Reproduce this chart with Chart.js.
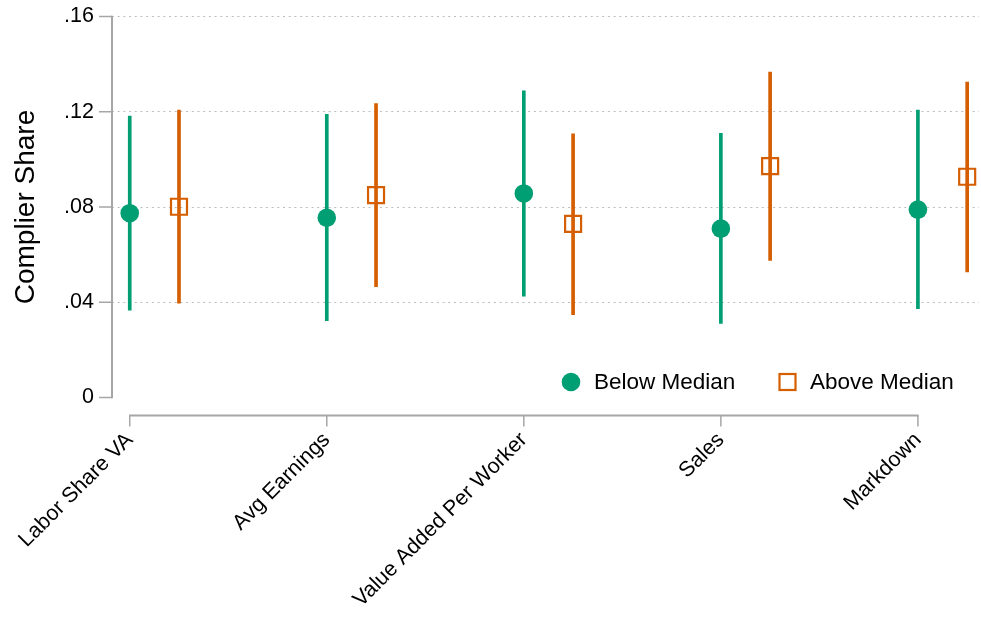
<!DOCTYPE html>
<html><head><meta charset="utf-8">
<script src="https://cdn.jsdelivr.net/npm/chart.js@4/dist/chart.umd.min.js"></script>
<style>html,body{margin:0;padding:0;background:#fff;overflow:hidden}#wrap{width:981px;height:618px;position:relative}</style>
</head><body><div id="wrap"><canvas id="c" width="981" height="618"></canvas></div>
<script>
// ---- data ----
const categories = ['Labor Share VA', 'Avg Earnings', 'Value Added Per Worker', 'Sales', 'Markdown'];
const seriesNames = ['Below Median', 'Above Median'];
const belowEst = [0.0774, 0.0755, 0.0857, 0.0709, 0.0789];
const belowLo  = [0.0367, 0.0323, 0.0426, 0.0311, 0.0373];
const belowHi  = [0.1182, 0.1189, 0.1288, 0.1109, 0.1207];
const aboveEst = [0.0801, 0.0850, 0.0729, 0.0972, 0.0927];
const aboveLo  = [0.0396, 0.0465, 0.0348, 0.0576, 0.0527];
const aboveHi  = [0.1207, 0.1234, 0.1107, 0.1367, 0.1325];
const yTicks = [0, 0.04, 0.08, 0.12, 0.16];
const yTickLabels = ['0', '.04', '.08', '.12', '.16'];
const catPos = [1, 2, 3, 4, 5];
const aboveOffset = 0.25;
const yTitle = 'Complier Share';

// ---- styles ----
const GREEN = '#009E73', ORANGE = '#D55E00', AXIS = '#a6a6a6';
const FONT = "'Liberation Sans', Arial, Helvetica, sans-serif";
Chart.defaults.font.family = FONT;
Chart.defaults.color = '#000';

const zeroPad = s => { s.paddingLeft = 0; s.paddingRight = 0; s.paddingTop = 0; s.paddingBottom = 0; };

const axesPlugin = {
  id: 'stataAxes',
  afterDraw(chart) {
    const {ctx, chartArea: a, scales: {x, y}} = chart;
    ctx.save();
    ctx.strokeStyle = AXIS;
    const yb = y.getPixelForValue(yTicks[0]), yt = y.getPixelForValue(yTicks[yTicks.length - 1]);
    ctx.lineWidth = 2;
    ctx.beginPath(); ctx.moveTo(a.left, yb + 0.75); ctx.lineTo(a.left, yt - 0.75); ctx.stroke();
    ctx.lineWidth = 1.5;
    yTicks.forEach(v => {
      const py = y.getPixelForValue(v);
      ctx.beginPath(); ctx.moveTo(a.left - 13, py); ctx.lineTo(a.left, py); ctx.stroke();
    });
    const ay = a.bottom + 18;
    const xl = x.getPixelForValue(catPos[0]), xr = x.getPixelForValue(catPos[catPos.length - 1]);
    ctx.lineWidth = 2;
    ctx.beginPath(); ctx.moveTo(xl - 0.75, ay); ctx.lineTo(xr + 0.75, ay); ctx.stroke();
    ctx.lineWidth = 1.5;
    catPos.forEach(v => {
      const px = x.getPixelForValue(v);
      ctx.beginPath(); ctx.moveTo(px, ay); ctx.lineTo(px, ay + 11); ctx.stroke();
    });
    ctx.restore();
  }
};

const legendPlugin = {
  id: 'insideLegend',
  afterDraw(chart) {
    const {ctx, chartArea: a} = chart;
    ctx.save();
    ctx.font = '22.5px ' + FONT;
    ctx.textBaseline = 'middle';
    const cy = a.bottom - 15.5;
    const cx = a.right - 408, t1 = a.right - 385;
    const sq = a.right - 191.5, t2 = a.right - 169;
    ctx.fillStyle = GREEN;
    ctx.beginPath(); ctx.arc(cx, cy, 9.3, 0, Math.PI * 2); ctx.fill();
    ctx.strokeStyle = ORANGE; ctx.lineWidth = 2.2;
    ctx.strokeRect(sq - 8, cy - 8, 16, 16);
    ctx.fillStyle = '#000';
    ctx.fillText(seriesNames[0], t1, cy + 1);
    ctx.fillText(seriesNames[1], t2, cy + 1);
    ctx.restore();
  }
};

const barDs = (lo, hi, off, color, label) => ({
  type: 'bar', label,
  data: catPos.map((p, i) => ({x: p + off, y: [lo[i], hi[i]]})),
  backgroundColor: color, borderWidth: 0, barThickness: 3, grouped: false, order: 2
});

new Chart(document.getElementById('c'), {
  type: 'scatter',
  data: {
    datasets: [
      {
        type: 'scatter', label: seriesNames[0],
        data: catPos.map((p, i) => ({x: p, y: belowEst[i]})),
        pointStyle: 'circle', pointRadius: 9.3, pointHoverRadius: 9.3,
        backgroundColor: GREEN, borderWidth: 0, order: 1
      },
      {
        type: 'scatter', label: seriesNames[1],
        data: catPos.map((p, i) => ({x: p + aboveOffset, y: aboveEst[i]})),
        pointStyle: 'rect', pointRadius: 11.3, pointHoverRadius: 11.3,
        backgroundColor: 'rgba(0,0,0,0)', borderColor: ORANGE, borderWidth: 2.2, order: 1
      },
      barDs(belowLo, belowHi, 0, GREEN, seriesNames[0] + ' CI'),
      barDs(aboveLo, aboveHi, aboveOffset, ORANGE, seriesNames[1] + ' CI')
    ]
  },
  options: {
    responsive: false, animation: false, devicePixelRatio: 1,
    layout: {autoPadding: false, padding: {top: 16.5, right: 2, left: 0, bottom: 0}},
    plugins: {legend: {display: false}, tooltip: {enabled: false}},
    scales: {
      x: {
        type: 'linear', min: 0.91, max: 5.31, offset: false,
        grid: {display: false, drawTicks: false, offset: false}, border: {display: false},
        afterBuildTicks(s) { s.ticks = catPos.map(v => ({value: v})); },
        afterFit(s) { s.height = 220.5; zeroPad(s); },
        ticks: {
          autoSkip: false, maxRotation: 45, minRotation: 45, padding: 30,
          font: {size: 21.5}, color: '#000',
          callback: (v, i) => categories[i]
        }
      },
      y: {
        type: 'linear', min: 0, max: 0.16,
        afterBuildTicks(s) { s.ticks = yTicks.map(v => ({value: v})); },
        afterFit(s) { s.width = 112; zeroPad(s); },
        grid: {
          drawTicks: false, lineWidth: 1,
          color: c => (c.tick && c.tick.value === 0) ? 'rgba(0,0,0,0)' : '#bdbdbd'
        },
        border: {display: false, dash: [2, 3.7]},
        ticks: {padding: 18, font: {size: 21.5}, color: '#000', callback: (v, i) => yTickLabels[i]},
        title: {display: true, text: yTitle, font: {size: 28}, color: '#000', padding: {top: 9, bottom: 0}}
      }
    }
  },
  plugins: [axesPlugin, legendPlugin]
});
</script>
</body></html>
